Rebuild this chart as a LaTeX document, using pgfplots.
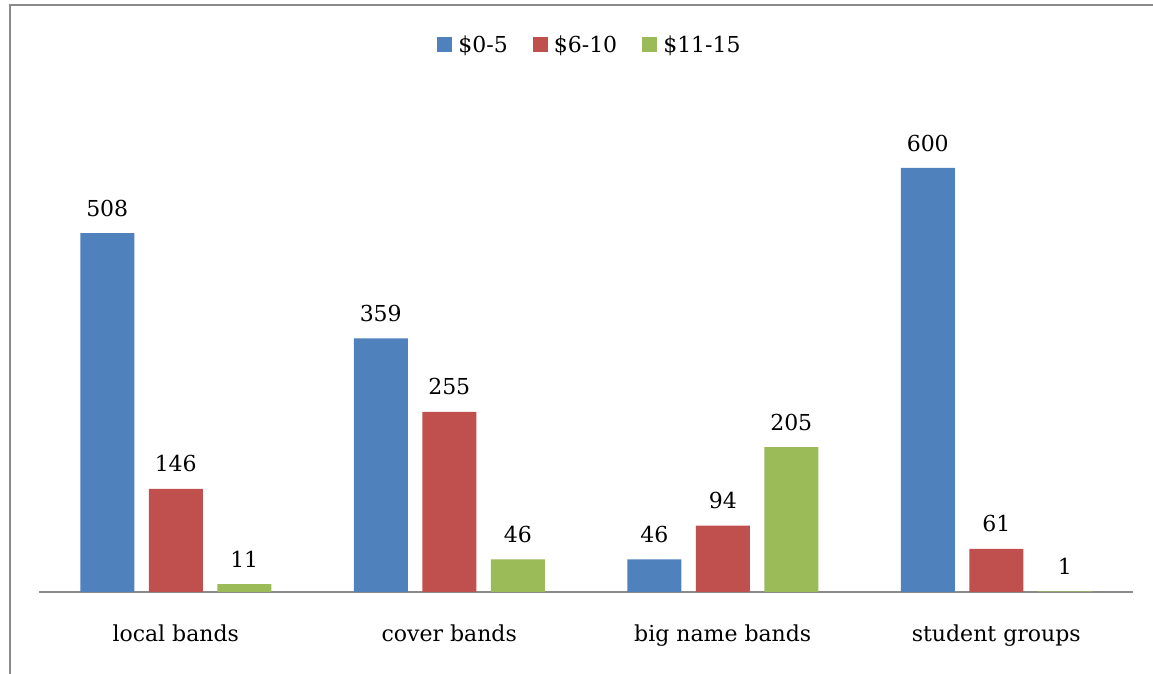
\documentclass[border=0pt]{standalone}
\usepackage{pgfplots}
\pgfplotsset{compat=1.18}
\usepackage{fontspec}
\setmainfont{DejaVu Serif}
\definecolor{cblue}{HTML}{4F81BD}
\definecolor{cred}{HTML}{C0504D}
\definecolor{cgreen}{HTML}{9BBB59}
\definecolor{frame}{HTML}{8A8A8A}
\begin{document}
\begin{tikzpicture}
\useasboundingbox (0,0) rectangle (1153pt,674pt);
\draw[frame, line width=2pt] (10pt,0) -- (10pt,669pt) -- (1153pt,669pt);
\begin{axis}[
  at={(39pt,82pt)}, anchor=south west,
  scale only axis, width=1094pt, height=424pt,
  ymin=0, ymax=600, xmin=-0.5, xmax=3.5,
  clip=false,
  ybar=14.5pt, bar width=54pt,
  axis x line*=bottom, hide y axis,
  axis line style={frame, line width=1.5pt},
  major tick length=0pt,
  xtick=data,
  xticklabels={local bands, cover bands, big name bands, student groups},
  xticklabel style={font=\fontsize{22}{26}\selectfont, anchor=base, yshift=-50pt},
  /pgf/number format/assume math mode=true,
  nodes near coords,
  every node near coord/.append style={font=\fontsize{22}{26}\selectfont, anchor=center, yshift=25pt, text=black},
  legend columns=3,
  legend style={at={(0.5037,1.291)}, anchor=center, draw=none, font=\fontsize{22}{26}\selectfont,
    /tikz/every odd column/.append style={column sep=4pt},
    /tikz/every even column/.append style={column sep=23pt}},
  legend image code/.code={\fill[#1] (0pt,-7.5pt) rectangle (15pt,7.5pt);},
]
\addplot[draw=none, fill=cblue] coordinates {(0,508) (1,359) (2,46) (3,600)};
\addplot[draw=none, fill=cred] coordinates {(0,146) (1,255) (2,94) (3,61)};
\addplot[draw=none, fill=cgreen] coordinates {(0,11) (1,46) (2,205) (3,1)};
\legend{\$0-5, \$6-10, \$11-15}
\end{axis}
\end{tikzpicture}
\end{document}
